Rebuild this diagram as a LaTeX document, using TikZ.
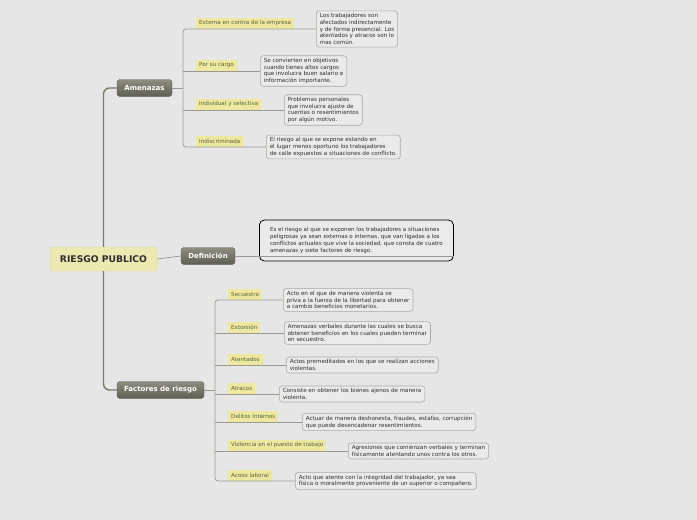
\documentclass[tikz,border=0pt]{standalone}
\usepackage{fontspec}
\setmainfont{DejaVu Sans}
\usepackage{xcolor}
\definecolor{canvas}{HTML}{E6E6E6}
\definecolor{stem}{HTML}{9A9A90}
\definecolor{stemdark}{HTML}{7A7A6C}
\definecolor{tagfill}{HTML}{EDE89F}
\definecolor{tagink}{HTML}{5E5E3C}
\definecolor{rootfill}{HTML}{ECE8B2}
\definecolor{rootedge}{HTML}{DCD79C}
\definecolor{topictop}{HTML}{8E8D80}
\definecolor{topicbot}{HTML}{5F5E53}
\definecolor{noteedge}{HTML}{A8A8A8}
\definecolor{notefill}{HTML}{EAEAEA}
\definecolor{ink}{HTML}{2E2E2E}

\begin{document}
\begin{tikzpicture}[x=1pt, y=-1pt,
  rootbox/.style={draw=rootedge, rounded corners=3pt, fill=rootfill,
    minimum width=107pt, minimum height=24pt,
    font=\fontsize{9.2}{10}\selectfont\bfseries, text=ink},
  topicbox/.style={draw=topicbot, rounded corners=3pt, top color=topictop,
    bottom color=topicbot, text=white, minimum height=17pt,
    font=\fontsize{7}{8}\selectfont\bfseries},
  tagbox/.style={fill=tagfill, text=tagink, anchor=south west,
    minimum height=11pt, inner xsep=3pt, inner ysep=1pt,
    font=\fontsize{5.6}{6.5}\selectfont},
  notebox/.style={draw=noteedge, fill=notefill, rounded corners=3pt,
    line width=0.6pt, align=left, text=ink, anchor=west, inner xsep=3.5pt,
    inner ysep=2.5pt, font=\fontsize{5.6}{6.7}\selectfont},
  trunk/.style={draw=stemdark, line width=1.4pt, rounded corners=6pt},
  twig/.style={draw=stem, line width=0.7pt, rounded corners=3pt}
]
\useasboundingbox[fill=canvas] (0,0) rectangle (697,520);

% centre and main branches
\node[rootbox] (root) at (103.5,259) {RIESGO PUBLICO};
\node[topicbox, minimum width=55pt] (amen) at (144.5,88) {Amenazas};
\node[topicbox, minimum width=54pt] (def) at (208,256) {Definición};
\node[topicbox, minimum width=87pt] (fact) at (160.5,390) {Factores de riesgo};
\coordinate (aspine) at (183,88);
\coordinate (fspine) at (215,390);

% amenazas
\node[tagbox] (a1) at (196,29) {Externa en contra de la empresa};
\node[notebox] (na1) at (316,29) {Los trabajadores son\\afectados indirectamente\\y de forma presencial. Los\\atentados y atracos son lo\\mas común.};
\node[tagbox] (a2) at (196,71) {Por su cargo};
\node[notebox] (na2) at (260,71) {Se convierten en objetivos\\cuando tienes altos cargos\\que involucra buen salario e\\información importante.};
\node[tagbox] (a3) at (196,110) {Individual y selectiva};
\node[notebox] (na3) at (284,110) {Problemas personales\\que involucra ajuste de\\cuentas o resentimientos\\por algún motivo.};
\node[tagbox] (a4) at (196,147) {Indiscriminada};
\node[notebox] (na4) at (266,147) {El riesgo al que se expone estando en\\el lugar menos oportuno los trabajadores\\de calle expuestos a situaciones de conflicto.};

% definicion
\node[notebox, draw=black, line width=0.8pt, rounded corners=5pt,
  minimum width=194pt, minimum height=41pt, inner xsep=8pt,
  font=\fontsize{5.55}{6.8}\selectfont] (ndef) at (259,240.5)
  {Es el riesgo al que se exponen los trabajadores  a situaciones\\peligrosas ya sean externas o internas, que van ligadas a los\\conflictos actuales que vive la sociedad, que consta de cuatro\\amenazas y siete factores de riesgo.};

% factores de riesgo
\node[tagbox] (f1) at (228,300) {Secuestro};
\node[notebox] (nf1) at (283,300) {Acto en el que de manera violenta se\\priva a la fuerza de la libertad para obtener\\a cambio beneficios monetarios.};
\node[tagbox] (f2) at (228,333) {Extorsión};
\node[notebox] (nf2) at (284,333) {Amenazas verbales durante las cuales se busca\\obtener beneficios en los cuales pueden terminar\\en secuestro.};
\node[tagbox] (f3) at (228,365) {Atentados};
\node[notebox] (nf3) at (286,365) {Actos premeditados en los que se realizan acciones\\violentas.};
\node[tagbox] (f4) at (228,394) {Atracos};
\node[notebox] (nf4) at (279,394) {Consiste en obtener los bienes ajenos de manera\\violenta.};
\node[tagbox] (f5) at (228,422) {Delitos Internos};
\node[notebox] (nf5) at (302,422) {Actuar de manera deshonesta, fraudes, estafas, corrupción\\que puede desencadenar resentimientos.};
\node[tagbox] (f6) at (228,451) {Violencia en el puesto de trabajo};
\node[notebox] (nf6) at (348,451) {Agresiones que comienzan verbales y terminan\\físicamente atentando unos contra los otros.};
\node[tagbox] (f7) at (228,481) {Acoso laboral};
\node[notebox] (nf7) at (295,481) {Acto que atente con la integridad del trabajador, ya sea\\física o moralmente proveniente de un superior o compañero.};

% connectors
\draw[trunk] (root.north) |- (amen.west);
\draw[trunk] (root.south) |- (fact.west);
\draw[twig] (root.east) -- (def.west);
\draw[twig] (def.east) -- (def.east -| ndef.east);
\draw[twig] (amen.east) -- (aspine);
\draw[twig] (na1.west) -- (na1.west -| aspine) -- (na4.west -| aspine) -- (na4.west);
\foreach \n in {na2,na3}
  \draw[twig] (\n.west -| aspine) -- (\n.west);
\draw[twig] (fact.east) -- (fspine);
\draw[twig] (nf1.west) -- (nf1.west -| fspine) -- (nf7.west -| fspine) -- (nf7.west);
\foreach \n in {nf2,nf3,nf4,nf5,nf6}
  \draw[twig] (\n.west -| fspine) -- (\n.west);
\end{tikzpicture}
\end{document}
